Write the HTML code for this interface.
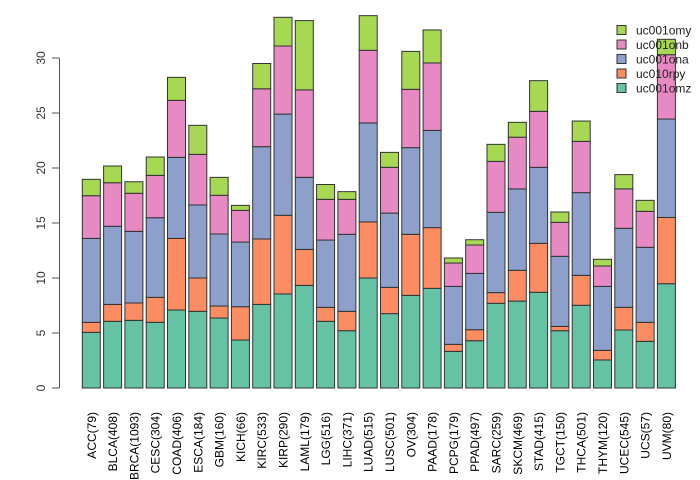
<!DOCTYPE html>
<html><head><meta charset="utf-8"><style>
body{margin:0;background:#fff}
svg{display:block;font-family:"Liberation Sans",sans-serif}
</style></head><body>
<svg id="chart" width="700" height="480"></svg>
<script>
const categories=["ACC(79)","BLCA(408)","BRCA(1093)","CESC(304)","COAD(406)","ESCA(184)","GBM(160)","KICH(66)","KIRC(533)","KIRP(290)","LAML(179)","LGG(516)","LIHC(371)","LUAD(515)","LUSC(501)","OV(304)","PAAD(178)","PCPG(179)","PPAD(497)","SARC(259)","SKCM(469)","STAD(415)","TGCT(150)","THCA(501)","THYM(120)","UCEC(545)","UCS(57)","UVM(80)"];
const uc001omz=[5.06,6.06,6.15,5.97,7.09,6.97,6.36,4.36,7.6,8.55,9.33,6.06,5.21,10.0,6.76,8.42,9.06,3.33,4.3,7.7,7.9,8.7,5.21,7.52,2.55,5.27,4.24,9.48];
const uc010rpy=[0.91,1.54,1.58,2.27,6.51,3.03,1.09,3.03,5.95,7.15,3.27,1.27,1.76,5.1,2.39,5.55,5.52,0.64,1.0,0.97,2.8,4.45,0.39,2.72,0.87,2.06,1.73,6.02];
const uc001ona=[7.63,7.1,6.51,7.24,7.37,6.64,6.55,5.88,8.39,9.2,6.55,6.12,7.0,9.0,6.75,7.88,8.84,5.27,5.12,7.3,7.4,6.91,6.37,7.52,5.82,7.19,6.82,8.95];
const uc001onb=[3.88,3.96,3.46,3.85,5.18,4.6,3.52,2.88,5.26,6.19,7.95,3.7,3.18,6.6,4.16,5.3,6.13,2.12,2.58,4.63,4.7,5.09,3.09,4.66,1.85,3.58,3.27,5.85];
const uc001omy=[1.49,1.52,1.05,1.67,2.09,2.64,1.63,0.45,2.3,2.61,6.3,1.35,0.7,3.15,1.36,3.45,3.0,0.46,0.48,1.55,1.35,2.79,0.94,1.85,0.61,1.3,1.0,1.4];
const seriesNames=["uc001omz","uc010rpy","uc001ona","uc001onb","uc001omy"];
const seriesValues=[uc001omz,uc010rpy,uc001ona,uc001onb,uc001omy];
const colors=["#66c2a5","#fc8d62","#8da0cb","#e78ac3","#a6d854"];
const yTicks=[0,5,10,15,20,25,30];

const NS="http://www.w3.org/2000/svg";
const svg=document.getElementById('chart');
function mk(t,a,p){const e=document.createElementNS(NS,t);for(const k in a)e.setAttribute(k,a[k]);(p||svg).appendChild(e);return e;}
const y0=388,pxPerUnit=11;
function yScale(v){return y0-v*pxPerUnit;}
function xScale(i){return 82.3+i*21.3;}
const bw=18;

const bars=mk('g',{});


categories.forEach((c,i)=>{
  let cum=0;
  seriesValues.forEach((s,k)=>{
    const v=s[i];
    const r=mk('rect',{x:xScale(i),y:yScale(cum+v),width:bw,height:v*pxPerUnit,fill:colors[k],stroke:'#333','stroke-width':1},bars);
    
    
    cum+=v;
  });
  const t=mk('text',{x:0,y:0,'font-size':12,fill:'#000','text-anchor':'end',transform:`translate(${xScale(i)+bw/2+4.5},412) rotate(-90)`});
  t.textContent=c;
  
  
});

const ax=mk('g',{});


mk('line',{x1:59.5,x2:59.5,y1:yScale(0),y2:yScale(30),stroke:'#555'},ax);
yTicks.forEach(v=>{
  mk('line',{x1:52,x2:59.5,y1:yScale(v),y2:yScale(v),stroke:'#555'},ax);
  const t=mk('text',{x:0,y:0,'font-size':12,fill:'#333','text-anchor':'middle',transform:`translate(45,${yScale(v)}) rotate(-90)`},ax);
  t.textContent=v;
  
  
});

const lg=mk('g',{});


const legY=[30,44.5,59,73.5,88];
[4,3,2,1,0].forEach((k,j)=>{
  const r=mk('rect',{x:617,y:legY[j]-4.5,width:9,height:9,fill:colors[k],stroke:'#333'},lg);
  
  
  const t=mk('text',{x:636,y:legY[j]+4.5,'font-size':12,fill:'#222'},lg);
  t.textContent=seriesNames[k];
  
  
});
</script>
</body></html>
